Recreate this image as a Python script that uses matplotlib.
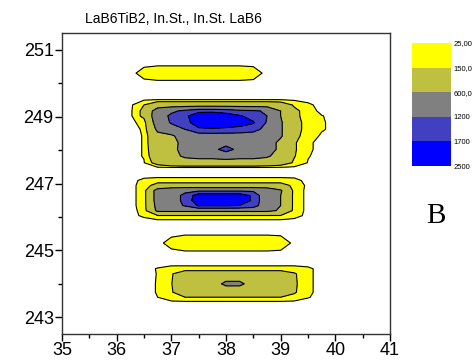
import numpy as np
import matplotlib
matplotlib.use('Agg')
import matplotlib.pyplot as plt
from matplotlib.ticker import MultipleLocator

plt.rcParams['font.family'] = ['Liberation Sans', 'DejaVu Sans']

# grid positions (x = 2theta, y = second axis) and intensities
two_theta = [36.0, 36.25, 36.5, 36.75, 37.0, 37.25, 37.5, 37.75, 38.0,
             38.25, 38.5, 38.75, 39.0, 39.25, 39.5, 39.75, 40.0]
y_pos = [250.6, 250.3, 250.0, 249.52, 249.35, 249.17, 249.02, 248.82, 248.62,
         248.42, 248.22, 248.02, 247.82, 247.62, 247.47, 247.24, 247.09, 246.94,
         246.79, 246.64, 246.49, 246.34, 246.19, 246.04, 245.89, 245.52, 245.22,
         244.92, 244.6, 244.45, 244.3, 244.0, 243.75, 243.6, 243.45]
zero = [0] * 17
intensity = [
    zero,
    [0, 0, 60, 90, 90, 90, 90, 90, 90, 90, 70, 0, 0, 0, 0, 0, 0],
    zero,
    zero,
    [0, 0, 150, 350, 350, 350, 350, 350, 350, 350, 350, 350, 300, 120, 40, 0, 0],
    [0, 0, 210, 850, 1100, 1300, 1500, 1500, 1450, 1300, 1250, 1150, 600, 200, 70, 0, 0],
    [0, 0, 210, 900, 1300, 1550, 2150, 2250, 2000, 1750, 1500, 1200, 600, 200, 75, 29, 0],
    [0, 0, 60, 850, 1250, 1500, 2000, 2050, 2000, 1900, 1750, 1150, 650, 220, 90, 35, 0],
    [0, 0, 35, 700, 950, 1200, 1600, 1650, 1600, 1550, 1400, 1000, 650, 220, 90, 35, 0],
    [0, 0, 30, 460, 520, 850, 900, 900, 900, 900, 900, 850, 650, 200, 80, 10, 0],
    [0, 0, 30, 450, 500, 700, 900, 900, 950, 900, 900, 800, 500, 170, 40, 0, 0],
    [0, 0, 30, 400, 520, 700, 900, 1000, 1450, 1000, 900, 800, 500, 170, 40, 0, 0],
    [0, 0, 30, 350, 500, 650, 700, 700, 750, 700, 700, 650, 450, 160, 30, 0, 0],
    [0, 0, 20, 250, 400, 450, 450, 450, 450, 450, 450, 400, 300, 120, 20, 0, 0],
    zero,
    zero,
    [0, 0, 45, 60, 60, 60, 60, 60, 60, 60, 60, 60, 60, 50, 0, 0, 0],
    [0, 0, 60, 250, 250, 250, 250, 250, 250, 250, 250, 250, 250, 100, 0, 0, 0],
    [0, 0, 60, 800, 1000, 1100, 1100, 1100, 1100, 1100, 1100, 1000, 650, 80, 0, 0, 0],
    [0, 0, 60, 800, 1000, 1300, 2000, 2000, 2000, 2000, 1600, 700, 600, 80, 0, 0, 0],
    [0, 0, 60, 800, 1000, 1300, 2100, 2100, 2100, 2100, 1600, 700, 600, 80, 0, 0, 0],
    [0, 0, 60, 750, 950, 1250, 1750, 1750, 1750, 1680, 1500, 700, 600, 80, 0, 0, 0],
    [0, 0, 50, 700, 700, 700, 700, 700, 700, 700, 700, 700, 550, 80, 0, 0, 0],
    [0, 0, 40, 140, 140, 140, 140, 140, 140, 140, 140, 140, 140, 60, 0, 0, 0],
    zero,
    zero,
    [0, 0, 0, 0, 60, 120, 120, 120, 120, 120, 120, 120, 90, 0, 0, 0, 0],
    zero,
    zero,
    [0, 0, 0, 30, 60, 60, 60, 60, 60, 60, 60, 60, 60, 60, 40, 0, 0],
    [0, 0, 0, 28, 130, 300, 300, 300, 300, 300, 300, 300, 300, 170, 40, 0, 0],
    [0, 0, 0, 30, 140, 400, 400, 400, 700, 700, 400, 400, 400, 180, 40, 0, 0],
    [0, 0, 0, 30, 130, 300, 300, 300, 300, 300, 300, 300, 300, 170, 40, 0, 0],
    [0, 0, 0, 25, 100, 150, 150, 150, 150, 150, 150, 150, 150, 100, 30, 0, 0],
    zero,
]

levels = [25, 150, 600, 1200, 1700, 2500]
level_labels = ['25,00', '150,0', '600,0', '1200', '1700', '2500']
level_colors = ['#FFFF00', '#C0C040', '#808080', '#4040C0', '#0000FF']
y_ticks = [243, 245, 247, 249, 251]

x = np.array(two_theta)
y = np.array(y_pos)[::-1]
Z = np.array(intensity, dtype=float)[::-1]

fig = plt.figure(figsize=(4.75, 3.61), dpi=100)
ax = fig.add_axes([62/475, 27/361, 328/475, 301/361])

cf = ax.contourf(x, y, Z, levels=levels, colors=level_colors)
ax.contour(x, y, Z, levels=levels[:-1], colors='k', linewidths=0.8)

ax.set_xlim(35, 41)
ax.set_ylim(242.5, 251.5)
ax.xaxis.set_major_locator(MultipleLocator(1))
ax.xaxis.set_minor_locator(MultipleLocator(0.5))
ax.set_yticks(y_ticks)
ax.set_yticks([244, 246, 248, 250], minor=True)
ax.tick_params(which='major', direction='out', length=5, width=1, labelsize=13, pad=1)
ax.tick_params(which='minor', direction='out', length=3, width=1)
for s in ax.spines.values():
    s.set_linewidth(1)
    s.set_color('#333333')

fig.text(85/475, 1 - 23/361, 'LaB6TiB2, In.St., In.St. LaB6', fontsize=10,
         ha='left', va='baseline')

# colour scale (low values at the top)
cax = fig.add_axes([412/475, 1 - 166/361, 39/475, 123/361])
cb = fig.colorbar(cf, cax=cax, ticks=levels)
cax.invert_yaxis()
cb.outline.set_visible(False)
cb.set_ticklabels(level_labels)
cax.tick_params(length=0, labelsize=5.5, pad=2)

fig.text(436/475, 1 - 223/361, 'B', family='Liberation Serif', fontsize=21,
         ha='center', va='baseline')

fig.savefig('out.png', dpi=100)
